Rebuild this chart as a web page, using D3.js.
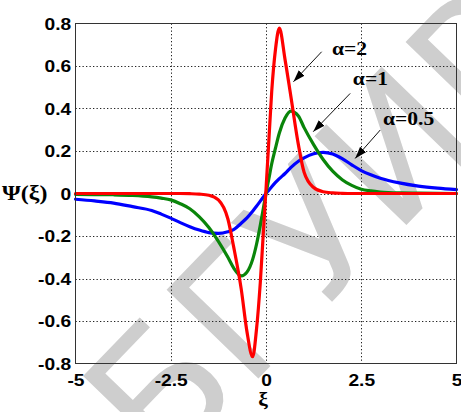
<!DOCTYPE html>
<html>
<head>
<meta charset="utf-8">
<script src="https://cdn.jsdelivr.net/npm/d3@7"></script>
<style>
  html, body { margin: 0; padding: 0; background: #fff; }
  svg { display: block; }
</style>
</head>
<body>
<svg id="chart" width="461" height="412"></svg>
<script>
// ---------- data ----------
const xi = [-5,-4.5,-4,-3.5,-3,-2.75,-2.5,-2.25,-2,-1.75,-1.5,-1.25,-1,-0.85,-0.65,-0.5,-0.35,-0.25,-0.15,-0.075,
            0,0.075,0.15,0.25,0.35,0.5,0.65,0.85,1,1.25,1.5,1.75,2,2.25,2.5,2.75,3,3.5,4,4.5,5];
const psiAlpha05 = [-0.027,-0.035,-0.045,-0.062,-0.08,-0.097,-0.116,-0.137,-0.156,-0.172,-0.184,-0.188,-0.18,-0.17,-0.14,-0.115,-0.083,-0.06,-0.036,-0.018,
            0,0.016,0.032,0.052,0.07,0.094,0.122,0.152,0.168,0.187,0.194,0.186,0.164,0.135,0.108,0.088,0.072,0.05,0.035,0.025,0.018];
const psiAlpha1 = [-0.004,-0.005,-0.006,-0.009,-0.016,-0.022,-0.03,-0.048,-0.072,-0.11,-0.16,-0.225,-0.3,-0.35,-0.388,-0.37,-0.31,-0.24,-0.15,-0.075,
            0,0.07,0.14,0.215,0.285,0.355,0.388,0.365,0.31,0.23,0.16,0.105,0.065,0.038,0.02,0.012,0.007,0.003,0.002,0.001,0];
const psiAlpha2 = [0,0,0,0,0,0,0,0,-0.001,-0.003,-0.008,-0.03,-0.12,-0.25,-0.45,-0.65,-0.768,-0.64,-0.42,-0.2,
            0.02,0.25,0.48,0.68,0.778,0.63,0.46,0.23,0.1,0.028,0.008,0.003,0.001,0,0,0,0,0,0,0,0];
const seriesNames = ["α=0.5", "α=1", "α=2"];
const seriesColors = ["#0000ff", "#0a850a", "#ff0000"];
const xTicks = [-5, -2.5, 0, 2.5, 5];
const xTickLabels = ["-5", "-2.5", "0", "2.5", "5"];
const yTicks = [-0.8, -0.6, -0.4, -0.2, 0, 0.2, 0.4, 0.6, 0.8];
const yTickLabels = ["-0.8", "-0.6", "-0.4", "-0.2", "0", "0.2", "0.4", "0.6", "0.8"];

// ---------- layout ----------
const svg = d3.select("#chart");
const L = 75.5, R = 456.5, T = 23.5, B = 363.5;
const x = d3.scaleLinear().domain([-5, 5]).range([L, R]);
const y = d3.scaleLinear().domain([-0.8, 0.8]).range([B, T]);
const SX = 1.2; // horizontal stretch of the reference's lettering

svg.append("rect").attr("width", 461).attr("height", 412).attr("fill", "#fff");

// watermark
svg.append("text")
  .attr("transform", "translate(163,477) rotate(-46)")
  .attr("font-family", "DejaVu Sans, sans-serif")
  .attr("font-size", 175)
  .attr("fill", "#cecece")
  .text("БГУИР");

// grid
const grid = svg.append("g").attr("stroke", "#222").attr("stroke-width", 1)
  .attr("stroke-dasharray", "1.3,2.2");
grid.selectAll("line.gx").data(xTicks.slice(1, -1)).join("line")
  .attr("x1", d => Math.round(x(d)) + 0.5).attr("x2", d => Math.round(x(d)) + 0.5)
  .attr("y1", T).attr("y2", B);
grid.selectAll("line.gy").data(yTicks.slice(1, -1)).join("line")
  .attr("y1", d => Math.round(y(d)) + 0.5).attr("y2", d => Math.round(y(d)) + 0.5)
  .attr("x1", L).attr("x2", R);

// curves
const line = d3.line().x(d => x(d[0])).y(d => y(d[1])).curve(d3.curveMonotoneX);
[psiAlpha05, psiAlpha1, psiAlpha2].forEach((vals, i) => {
  svg.append("path")
    .datum(xi.map((v, k) => [v, vals[k]]))
    .attr("fill", "none")
    .attr("stroke", seriesColors[i])
    .attr("stroke-width", 3.2)
    .attr("stroke-linejoin", "round")
    .attr("stroke-linecap", "round")
    .attr("d", line);
});

// frame
svg.append("rect").attr("x", L).attr("y", T).attr("width", R - L).attr("height", B - T)
  .attr("fill", "none").attr("stroke", "#333").attr("stroke-width", 1);

// axes
const tickFont = "Liberation Sans, Arial, Helvetica, sans-serif";
const xAxis = svg.append("g").attr("transform", `translate(0,${B})`)
  .call(d3.axisBottom(x).tickValues(xTicks).tickSize(0)
    .tickFormat((d, i) => xTickLabels[i]));
xAxis.select(".domain").remove();
xAxis.selectAll("text")
  .attr("y", 22.5).attr("dy", null)
  .attr("transform", `scale(${SX},1)`)
  .attr("font-family", tickFont).attr("font-weight", "bold").attr("font-size", 16)
  .attr("fill", "#000");

const yAxis = svg.append("g").attr("transform", `translate(${L},0)`)
  .call(d3.axisLeft(y).tickValues(yTicks).tickSize(0)
    .tickFormat((d, i) => yTickLabels[i]));
yAxis.select(".domain").remove();
yAxis.selectAll("text")
  .attr("x", -3.6).attr("dy", "0.36em")
  .attr("transform", `scale(${SX},1)`)
  .attr("font-family", tickFont).attr("font-weight", "bold").attr("font-size", 16)
  .attr("fill", "#000");

// axis titles
const serif = "Liberation Serif, 'Times New Roman', serif";
svg.append("text").attr("transform", `translate(2,200) scale(${SX},1)`)
  .attr("font-family", serif).attr("font-weight", "bold").attr("font-size", 20)
  .text("Ψ(ξ)");
svg.append("text").attr("transform", `translate(263,405) scale(${SX},1)`)
  .attr("text-anchor", "middle")
  .attr("font-family", serif).attr("font-weight", "bold").attr("font-size", 18)
  .text("ξ");

// annotations with arrows (label position, arrow tail, arrow tip in data units)
const notes = [
  { label: seriesNames[2], at: [1.73, 0.65], from: [1.46, 0.667], to: [0.72, 0.526] },
  { label: seriesNames[1], at: [2.28, 0.51], from: [2.21, 0.471], to: [1.24, 0.291] },
  { label: seriesNames[0], at: [3.07, 0.323], from: [3.0, 0.299], to: [2.34, 0.165] }
];
svg.append("defs").append("marker")
  .attr("id", "ah").attr("viewBox", "0 0 12 8").attr("refX", 12).attr("refY", 4)
  .attr("markerWidth", 12).attr("markerHeight", 8).attr("markerUnits", "userSpaceOnUse")
  .attr("orient", "auto")
  .append("path").attr("d", "M0,0 L12,4 L0,8 Z").attr("fill", "#000");
notes.forEach(n => {
  svg.append("line")
    .attr("x1", x(n.from[0])).attr("y1", y(n.from[1]))
    .attr("x2", x(n.to[0])).attr("y2", y(n.to[1]))
    .attr("stroke", "#111").attr("stroke-width", 1)
    .attr("marker-end", "url(#ah)");
  svg.append("text")
    .attr("transform", `translate(${x(n.at[0])},${y(n.at[1])}) scale(${SX},1)`)
    .attr("font-family", serif).attr("font-weight", "bold").attr("font-size", 18)
    .attr("fill", "#000")
    .text(n.label);
});
</script>
</body>
</html>
